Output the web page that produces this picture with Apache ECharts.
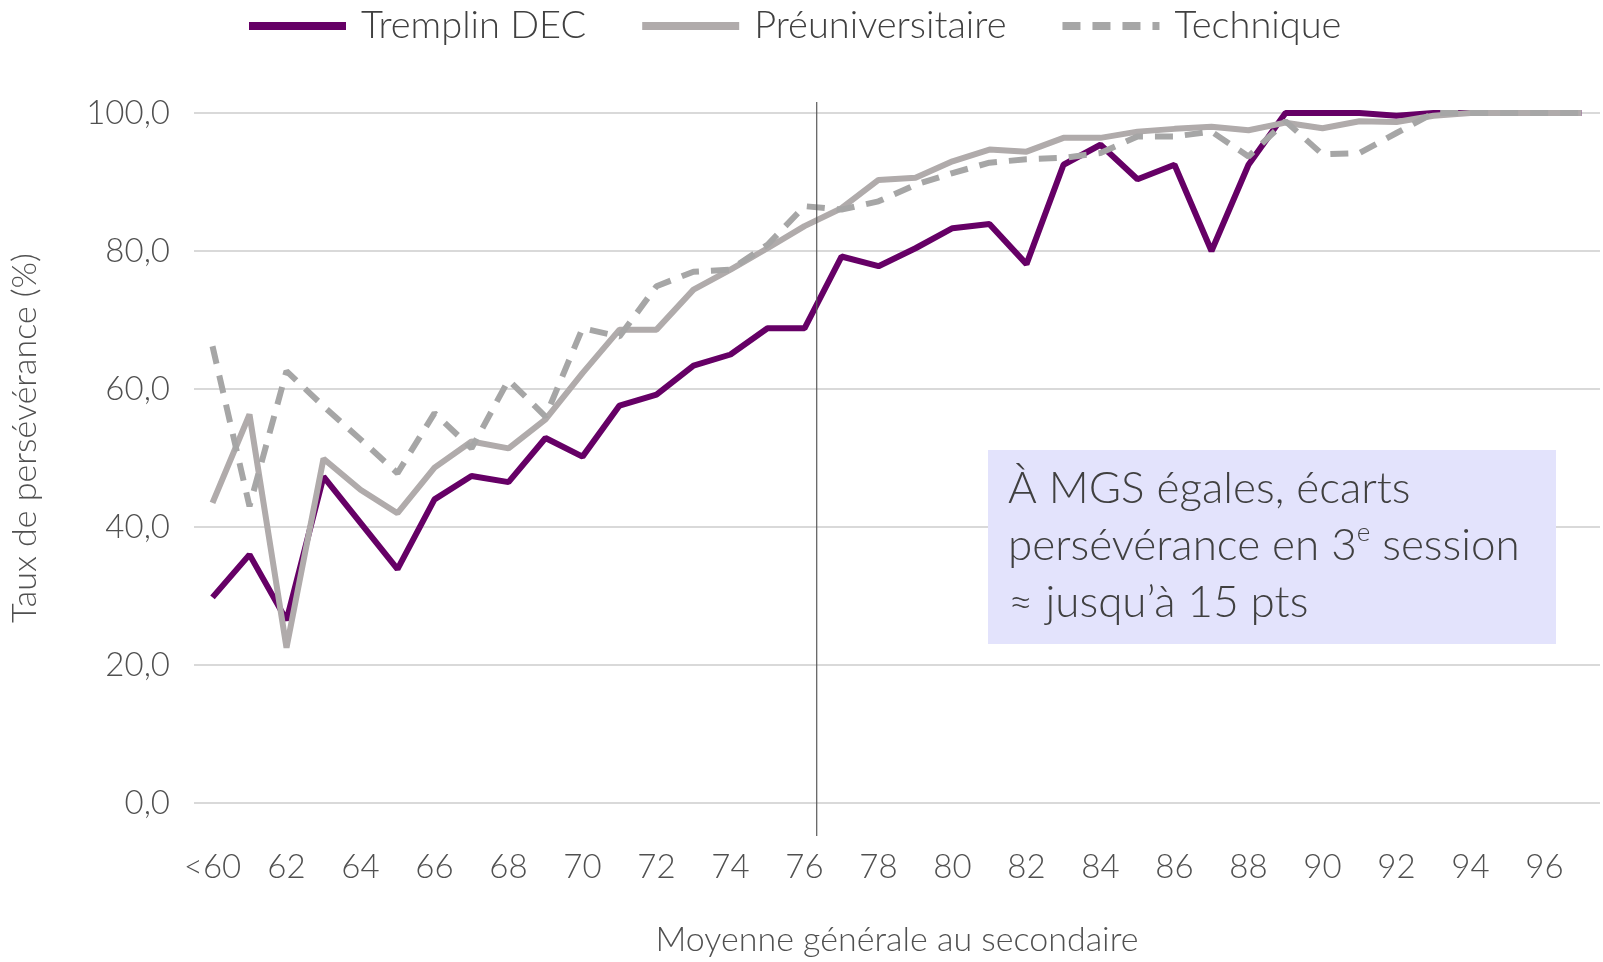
<!DOCTYPE html>
<html>
<head>
<meta charset="utf-8">
<script src="https://cdn.jsdelivr.net/npm/echarts/dist/echarts.min.js"></script>
<style>
  html, body { margin: 0; padding: 0; background: #fff; }
  #chart { width: 1603px; height: 962px; }
</style>
</head>
<body>
<div id="chart"></div>
<script>
// categories (MGS)
var categories = ['<60', '61', '62', '63', '64', '65', '66', '67', '68', '69', '70', '71', '72',
  '73', '74', '75', '76', '77', '78', '79', '80', '81', '82', '83', '84', '85', '86', '87', '88',
  '89', '90', '91', '92', '93', '94', '95', '96', '97'];

var tremplin = [29.8, 36.0, 26.5, 47.3, 40.6, 33.9, 44.0, 47.4, 46.5, 52.9, 50.2,
  57.6, 59.2, 63.4, 65.0, 68.8, 68.8, 79.2, 77.8, 80.4, 83.3, 83.9,
  78.1, 92.5, 95.4, 90.4, 92.5, 80.0, 92.5,
  100, 100, 100, 99.6, 100, 100, 100, 100, 100];

var preuniversitaire = [43.5, 56.3, 22.5, 49.9, 45.4, 42.0, 48.6, 52.4, 51.4, 55.6, 62.3,
  68.6, 68.6, 74.4, 77.3, 80.4, 83.6, 86.2, 90.3, 90.6, 93.0, 94.7,
  94.4, 96.4, 96.4, 97.3, 97.7, 98.0, 97.5, 98.6, 97.8, 98.8, 98.7, 99.6,
  100, 100, 100, 100];

var technique = [66.2, 43.0, 62.6, 57.5, 52.7, 47.8, 56.5, 51.4, 61.3, 56.0, 68.8,
  67.6, 74.9, 77.0, 77.3, 80.9, 86.5, 86.0, 87.2, 89.6, 91.3, 92.8,
  93.3, 93.5, 94.2, 96.6, 96.6, 97.3, 93.7, 98.8, 94.0, 94.2, 97.1,
  100, 100, 100, 100, 100];

// position of the vertical marker, in category units
var markerAt = 16.33;

var font = 'Lato, "Open Sans", sans-serif';
var labelColor = '#505050';
var chart = echarts.init(document.getElementById('chart'));

var option = {
  animation: false,
  legend: {
    top: 2,
    left: 240,
    itemWidth: 97,
    itemHeight: 14,
    itemGap: 52,
    textStyle: { fontFamily: font, fontSize: 38, fontWeight: 300, color: '#404040', padding: [0, 0, 0, 10] },
    itemStyle: { opacity: 0 },
    lineStyle: { width: 8 },
    data: ['Tremplin DEC', 'Préuniversitaire', 'Technique']
  },
  grid: { left: 191, right: 3, top: 113, bottom: 159 },
  xAxis: {
    type: 'category',
    data: categories,
    name: 'Moyenne générale au secondaire',
    nameLocation: 'middle',
    nameGap: 120,
    nameTextStyle: { fontFamily: font, fontSize: 34, fontWeight: 300, color: labelColor },
    axisLine: { show: false },
    axisTick: { show: false },
    axisLabel: { interval: 1, margin: 48, fontFamily: font, fontSize: 33, fontWeight: 300, color: labelColor }
  },
  yAxis: {
    type: 'value',
    min: 0,
    max: 100,
    interval: 20,
    name: 'Taux de persévérance (%)',
    nameLocation: 'middle',
    nameGap: 152,
    nameTextStyle: { fontFamily: font, fontSize: 34, fontWeight: 300, color: labelColor, padding: [0, 0, 0, 40] },
    axisLabel: {
      margin: 24,
      fontFamily: font, fontSize: 33, fontWeight: 300, color: labelColor,
      formatter: function (v) { return v.toFixed(1).replace('.', ','); }
    },
    splitLine: { lineStyle: { color: '#d9d9d9', width: 2 } }
  },
  series: [
    {
      name: 'Tremplin DEC', type: 'line', data: tremplin, symbol: 'none',
      lineStyle: { color: '#660066', width: 6 }, itemStyle: { color: '#660066' }, z: 2
    },
    {
      name: 'Préuniversitaire', type: 'line', data: preuniversitaire, symbol: 'none',
      lineStyle: { color: '#b0abab', width: 6 }, itemStyle: { color: '#bfbfbf' }, z: 3
    },
    {
      name: 'Technique', type: 'line', data: technique, symbol: 'none',
      lineStyle: { color: '#a6a6a6', width: 6, type: [18, 12] }, itemStyle: { color: '#bfbfbf' }, z: 4
    }
  ]
};
chart.setOption(option);

// vertical marker line and note box
var p16 = chart.convertToPixel({ xAxisIndex: 0 }, 16);
var p17 = chart.convertToPixel({ xAxisIndex: 0 }, 17);
var mx = p16 + (p17 - p16) * (markerAt - 16);

chart.setOption({
  graphic: [
    {
      type: 'line', z: 10,
      shape: { x1: mx, y1: 102, x2: mx, y2: 836 },
      style: { stroke: '#595959', lineWidth: 1.2 }
    },
    {
      type: 'rect', z: 20,
      shape: { x: 988, y: 450, width: 568, height: 194 },
      style: { fill: '#e3e3fc' }
    },
    {
      type: 'text', z: 21, left: 1008, top: 467,
      style: {
        text: '{a|À MGS égales, écarts}\n{a|persévérance en 3}{s|e}{a| session}\n{a|≈ jusqu’à 15 pts}',
        rich: {
          a: { fontFamily: font, fontSize: 44, fontWeight: 300, fill: '#404040', lineHeight: 57 },
          s: { fontFamily: font, fontSize: 26, fontWeight: 300, fill: '#404040', lineHeight: 57, verticalAlign: 'top', padding: [2, 0, 0, 0] }
        }
      }
    }
  ]
});
</script>
</body>
</html>
